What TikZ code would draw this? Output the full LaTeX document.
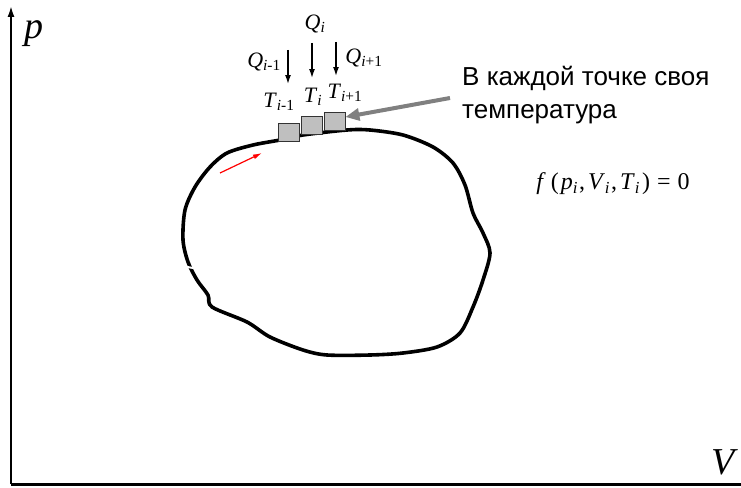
\documentclass[tikz,border=0pt]{standalone}
\usepackage{fontspec}
\setmainfont{Liberation Serif}
\newfontfamily\notefont{Liberation Sans}
\usepackage{tikz}
\usetikzlibrary{arrows.meta}

\newcommand{\sym}[2]{\textit{#1}\textsubscript{#2}}

\tikzset{
  cell/.style={draw=black!80, line width=0.8pt, fill=black!25, minimum width=21pt, minimum height=18pt, inner sep=0pt},
  heat/.style={line width=1.4pt, -{Latex[length=9pt,width=6pt]}},
  lbl/.style={inner sep=0pt, font=\fontsize{22}{24}\selectfont},
  axlbl/.style={inner sep=0pt, font=\fontsize{38}{40}\selectfont\itshape},
}

\begin{document}
\begin{tikzpicture}[x=1pt,y=-1pt]
\useasboundingbox (0,0) rectangle (741,487);

\coordinate (O) at (11,484);
\coordinate (Ptop) at (11,6);
\coordinate (Vend) at (741,484);

\draw[line width=1.8pt, -{Latex[length=11pt,width=7pt]}] (O) -- (Ptop);
\draw[line width=3pt] (O) -- (Vend);

\node[axlbl] (plbl) at (34,34) {p};
\node[axlbl] (vlbl) at (723,462) {V};

% cycle
\draw[line width=3.6pt, line join=round] plot[smooth cycle, tension=0.5] coordinates {
  (280,140) (303,135) (347,130) (370,130) (403,135) (433,147) (453,163)
  (465,185) (473,213) (483,233) (490,253) (483,280) (473,307) (460,333)
  (437,347) (403,353) (370,355) (327,355) (303,350) (270,337) (247,322)
  (212,307) (208,295) (197,280) (188,262) (183,240) (185,210) (195,187) (210,167)
  (227,153) (253,145)};
\draw[white, line width=2pt] (182,266) -- (193,268);

% cells
\node[cell] (T1) at (288.5,132) {};
\node[cell] (T2) at (312,125) {};
\node[cell] (T3) at (334.5,121) {};

\node[lbl] (t1) at (279,102) {\sym{T}{\textit{i}-1}};
\node[lbl] (t2) at (313,97) {\sym{T}{\textit{i}}};
\node[lbl] (t3) at (345,93) {\sym{T}{\textit{i}+1}};

% heat
\coordinate (q1) at (288,50);
\coordinate (q2) at (312,43);
\coordinate (q3) at (336,42);
\coordinate (h1) at (288,84);
\coordinate (h2) at (312,78);
\coordinate (h3) at (336,76);
\draw[heat] (q1) -- (h1);
\draw[heat] (q2) -- (h2);
\draw[heat] (q3) -- (h3);

\node[lbl] (Q1) at (264,62) {\sym{Q}{\textit{i}-1}};
\node[lbl] (Q2) at (315,24) {\sym{Q}{\textit{i}}};
\node[lbl] (Q3) at (364,58) {\sym{Q}{\textit{i}+1}};

% note
\node[anchor=north west, align=left, inner sep=0pt,
      font=\notefont\fontsize{26}{33}\selectfont] (note) at (462,66)
  {В каждой точке своя\\температура};
\coordinate (g1) at (450,98);
\draw[black!50, line width=4pt, -{Triangle[length=14pt,width=12pt]}] (g1) -- (T3.east |- 0,117);

\node[inner sep=0pt, font=\fontsize{24}{26}\selectfont] (eq) at (613,184)
  {\textit{f}\hspace{5pt}(\hspace{2pt}\sym{p}{\textit{i}}\hspace{1pt},\hspace{3pt}\sym{V}{\textit{i}}\hspace{1pt},\hspace{3pt}\sym{T}{\textit{i}}\hspace{2pt})\hspace{7pt}=\hspace{7pt}0};

% direction
\coordinate (r1) at (220,173);
\coordinate (r2) at (262,153);
\draw[red, line width=1.2pt, -{Latex[length=9pt,width=5pt]}] (r1) -- (r2);

\end{tikzpicture}
\end{document}
